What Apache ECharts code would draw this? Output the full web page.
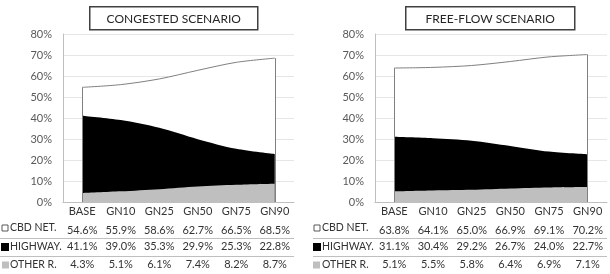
<!DOCTYPE html>
<html>
<head>
<meta charset="utf-8">
<script src="https://cdn.jsdelivr.net/npm/echarts@6/dist/echarts.min.js"></script>
<style>
  html, body { margin: 0; padding: 0; background: #fff; }
  #chart { width: 610px; height: 274px; }
</style>
</head>
<body>
<div id="chart"></div>
<script>
const categories = ['BASE', 'GN10', 'GN25', 'GN50', 'GN75', 'GN90'];
const yTicks = [0, 10, 20, 30, 40, 50, 60, 70, 80];
const rowNames = ['CBD NET.', 'HIGHWAY.', 'OTHER R.'];

// congested scenario
const congCbd = [54.6, 55.9, 58.6, 62.7, 66.5, 68.5];
const congHwy = [41.1, 39.0, 35.3, 29.9, 25.3, 22.8];
const congOther = [4.3, 5.1, 6.1, 7.4, 8.2, 8.7];

// free-flow scenario
const freeCbd = [63.8, 64.1, 65.0, 66.9, 69.1, 70.2];
const freeHwy = [31.1, 30.4, 29.2, 26.7, 24.0, 22.7];
const freeOther = [5.1, 5.5, 5.8, 6.4, 6.9, 7.1];

const FONT = 'Lato';
const TEXT = '#333333';
const AXIS = '#bfbfbf';

const pct = v => v.toFixed(1) + '%';

// one category axis + three "table row" axes per panel
const tableAxes = (gridIndex, rows) => {
    const base = {
        type: 'category',
        gridIndex,
        data: categories,
        position: 'bottom',
        boundaryGap: true,
        axisTick: { show: false },
        splitLine: { show: false }
    };
    const axes = [{
        ...base,
        axisLine: { show: true, lineStyle: { color: AXIS } },
        axisLabel: { interval: 0, color: TEXT, fontFamily: FONT, fontSize: 11, margin: 4 }
    }];
    const offsets = [20, 36, 54];
    rows.forEach((row, r) => {
        axes.push({
            ...base,
            offset: offsets[r],
            axisLine: { show: false },
            axisLabel: {
                interval: 0, hideOverlap: false,
                color: TEXT, fontFamily: FONT, fontSize: 11, margin: 3,
                formatter: (v, i) => pct(row[i])
            }
        });
    });
    return axes;
};

const yAxisFor = gridIndex => ({
    type: 'value',
    gridIndex,
    min: yTicks[0],
    max: yTicks[yTicks.length - 1],
    interval: 10,
    axisLine: { show: true, lineStyle: { color: AXIS } },
    axisTick: { show: false },
    splitLine: { lineStyle: { color: '#e6e6e6' } },
    axisLabel: { color: '#595959', fontFamily: FONT, fontSize: 11, margin: 11, formatter: '{value}%' }
});

const areaSeries = (xAxisIndex, yAxisIndex, cbd, hwy, other) => [
    {
        type: 'line', xAxisIndex, yAxisIndex, data: cbd,
        smooth: 0.3, symbol: 'none', silent: true,
        lineStyle: { color: '#808080', width: 1 },
        areaStyle: { color: '#ffffff', opacity: 1 },
        markLine: {
            silent: true, symbol: 'none', label: { show: false },
            lineStyle: { color: '#808080', width: 1, type: 'solid' },
            data: [
                [{ coord: [0, 0] }, { coord: [0, cbd[0]] }],
                [{ coord: [cbd.length - 1, 0] }, { coord: [cbd.length - 1, cbd[cbd.length - 1]] }]
            ]
        }
    },
    {
        type: 'line', xAxisIndex, yAxisIndex, data: hwy,
        smooth: 0.3, symbol: 'none', silent: true,
        lineStyle: { color: '#000000', width: 0 },
        areaStyle: { color: '#000000', opacity: 1 }
    },
    {
        type: 'line', xAxisIndex, yAxisIndex, data: other,
        smooth: 0.3, symbol: 'none', silent: true,
        lineStyle: { color: '#bfbfbf', width: 0 },
        areaStyle: { color: '#bfbfbf', opacity: 1 }
    }
];

const titleBox = (x, w, text) => ({
    type: 'group',
    left: x, top: 6,
    children: [
        { type: 'rect', shape: { x: 0, y: 0, width: w, height: 23 }, style: { fill: '#fff', stroke: '#404040', lineWidth: 1.5 } },
        { type: 'text', x: w / 2, y: 12, style: { text, fill: '#262626', font: '12px ' + FONT, align: 'center', verticalAlign: 'middle' } }
    ]
});

// legend keys + row names of the data table, and the row separators
const tableLeft = (keyX, textX, lineX1, lineX2) => {
    const ys = [228, 247, 265];
    const fills = ['#ffffff', '#000000', '#bfbfbf'];
    const keys = [[6, 6], [8, 8], [7, 7]];
    const children = [];
    rowNames.forEach((name, i) => {
        const [w, h] = keys[i];
        children.push({
            type: 'rect',
            shape: { x: keyX[i], y: ys[i] - h / 2, width: w, height: h },
            style: { fill: fills[i], stroke: i === 0 ? '#595959' : null, lineWidth: 1 }
        });
        children.push({
            type: 'text', x: textX[i], y: ys[i],
            style: { text: name, fill: TEXT, font: '10.5px ' + FONT, verticalAlign: 'middle' }
        });
    });
    [238, 256].forEach(y => {
        children.push({
            type: 'line', shape: { x1: lineX1, y1: y + 0.5, x2: lineX2, y2: y + 0.5 },
            style: { stroke: AXIS, lineWidth: 1 }
        });
    });
    return children;
};

const chart = echarts.init(document.getElementById('chart'));

chart.setOption({
    animation: false,
    backgroundColor: '#fff',
    grid: [
        { left: 63, right: 316, top: 34, bottom: 72 },
        { left: 375, right: 3, top: 34, bottom: 72 }
    ],
    xAxis: [
        ...tableAxes(0, [congCbd, congHwy, congOther]),
        ...tableAxes(1, [freeCbd, freeHwy, freeOther])
    ],
    yAxis: [yAxisFor(0), yAxisFor(1)],
    series: [
        ...areaSeries(0, 0, congCbd, congHwy, congOther),
        ...areaSeries(4, 1, freeCbd, freeHwy, freeOther)
    ],
    graphic: [
        titleBox(89, 168, 'CONGESTED SCENARIO'),
        titleBox(405, 169, 'FREE-FLOW SCENARIO'),
        ...tableLeft([2, 1, 2], [10, 10, 10], 0, 294),
        ...tableLeft([314, 313, 313], [322, 322, 322], 313, 607)
    ]
});
</script>
</body>
</html>
